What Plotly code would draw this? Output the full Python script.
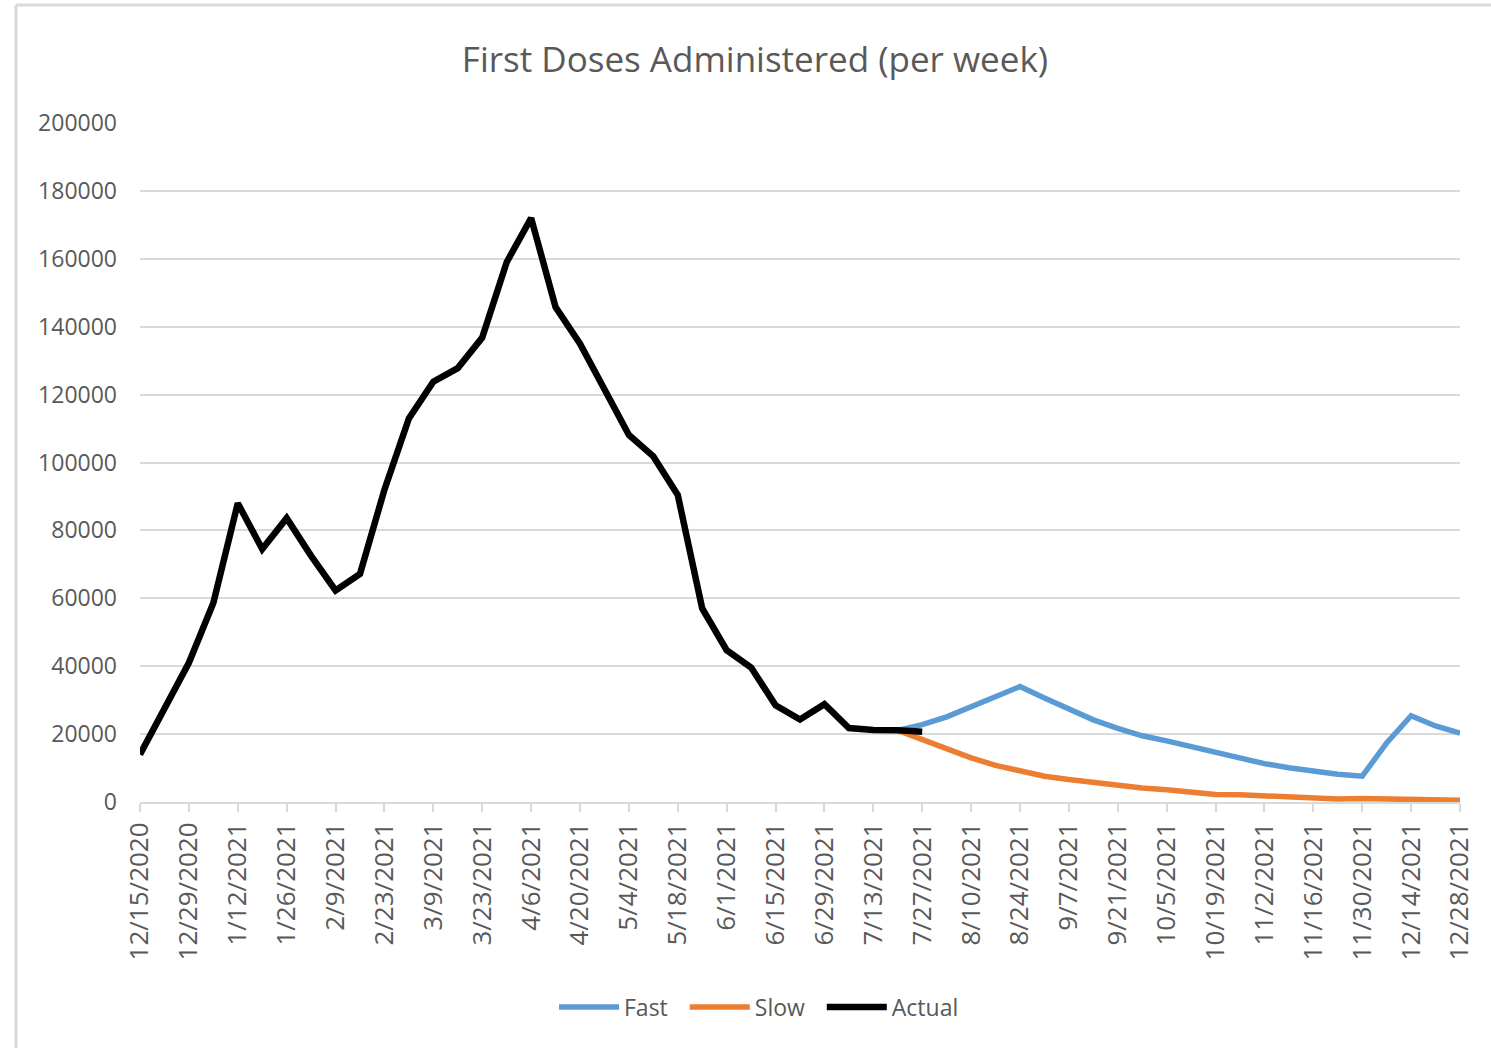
import plotly.graph_objects as go

weeks = ["12/15/2020", "12/22/2020", "12/29/2020", "1/5/2021", "1/12/2021", "1/19/2021",
         "1/26/2021", "2/2/2021", "2/9/2021", "2/16/2021", "2/23/2021", "3/2/2021",
         "3/9/2021", "3/16/2021", "3/23/2021", "3/30/2021", "4/6/2021", "4/13/2021",
         "4/20/2021", "4/27/2021", "5/4/2021", "5/11/2021", "5/18/2021", "5/25/2021",
         "6/1/2021", "6/8/2021", "6/15/2021", "6/22/2021", "6/29/2021", "7/6/2021",
         "7/13/2021", "7/20/2021", "7/27/2021", "8/3/2021", "8/10/2021", "8/17/2021",
         "8/24/2021", "8/31/2021", "9/7/2021", "9/14/2021", "9/21/2021", "9/28/2021",
         "10/5/2021", "10/12/2021", "10/19/2021", "10/26/2021", "11/2/2021", "11/9/2021",
         "11/16/2021", "11/23/2021", "11/30/2021", "12/7/2021", "12/14/2021", "12/21/2021",
         "12/28/2021"]

actual = [14000, 28000, 41000, 58600, 88000, 74500, 83600, 72500, 62300, 67200,
          92000, 113000, 123800, 127800, 136800, 159000, 172000, 145800, 135000, 121600,
          108100, 101800, 90400, 57000, 44700, 39600, 28500, 24300, 28800, 21800,
          21200, 21100, 20700]

proj_weeks = weeks[31:]
fast = [21100, 22800, 25100, 28000, 31000, 34000, 30600, 27200, 24200, 21700,
        19500, 18000, 16300, 14300, 12800, 11300, 10100, 9100, 8200, 7600,
        17400, 25400, 22400, 20300]
slow = [21100, 18300, 15600, 13000, 10800, 9300, 7600, 6600, 5700, 4800,
        4100, 3600, 2800, 2200, 2100, 1700, 1300, 1200, 900, 1000,
        900, 500, 500, 500]

tick_labels = weeks[::2]
y_ticks = list(range(0, 200001, 20000))

txt = "#595959"
grid = "#d9d9d9"
font_fam = "Open Sans"
pad = "\u00a0\u00a0"

fig = go.Figure()
fig.add_trace(go.Scatter(x=proj_weeks, y=fast, name="Fast" + pad, mode="lines",
                         line=dict(color="#5B9BD5", width=5.5), cliponaxis=False))
fig.add_trace(go.Scatter(x=proj_weeks, y=slow, name="Slow" + pad, mode="lines",
                         line=dict(color="#ED7D31", width=5.5), cliponaxis=False))
fig.add_trace(go.Scatter(x=weeks[:len(actual)], y=actual, name="Actual", mode="lines",
                         line=dict(color="#000000", width=6.5), cliponaxis=False))

W, H = 1491, 1048
L, R, T, B = 140, 31, 123, 246
pw, ph = W - L - R, H - T - B

def px(x):
    return (x - L) / pw

def py(y):
    return (H - B - y) / ph

fig.update_layout(
    width=W, height=H,
    margin=dict(l=L, r=R, t=T, b=B, autoexpand=False),
    paper_bgcolor="white", plot_bgcolor="white",
    font=dict(family=font_fam, color=txt, size=22),
    title=dict(text="First Doses Administered (per week)", x=755 / W, xanchor="center",
               y=1 - 60 / H, yanchor="middle", font=dict(size=35, color=txt, family=font_fam)),
    xaxis=dict(type="category", categoryorder="array", categoryarray=weeks,
               range=[0, len(weeks) - 1], tickmode="array", tickvals=tick_labels,
               ticktext=tick_labels, tickangle=-90, showgrid=False, showline=True,
               linecolor=grid, linewidth=2, ticks="outside", ticklen=8, tickcolor=grid,
               tickwidth=2, zeroline=False, automargin=False,
               tickfont=dict(size=26, color=txt)),
    yaxis=dict(range=[0, 200000], tickmode="array", tickvals=y_ticks,
               ticktext=[str(v) for v in y_ticks], showgrid=True, gridcolor=grid,
               gridwidth=2, zeroline=False, showline=False, ticks="", automargin=False,
               ticklabelstandoff=22, tickfont=dict(size=23, color=txt)),
    legend=dict(orientation="h", x=px(759), xanchor="center", y=py(1007), yanchor="middle",
                font=dict(size=23, color=txt), itemwidth=60, traceorder="normal",
                bgcolor="rgba(0,0,0,0)"),
    showlegend=True,
)

fig.add_shape(type="line", xref="paper", yref="paper", x0=px(16), x1=px(1500),
              y0=py(5), y1=py(5), line=dict(color=grid, width=3))
fig.add_shape(type="line", xref="paper", yref="paper", x0=px(16), x1=px(16),
              y0=py(5), y1=py(1060), line=dict(color=grid, width=3))

fig.write_html("out.html", config={"displayModeBar": False},
               post_script="document.body.style.margin='0';document.body.style.overflow='hidden';")
